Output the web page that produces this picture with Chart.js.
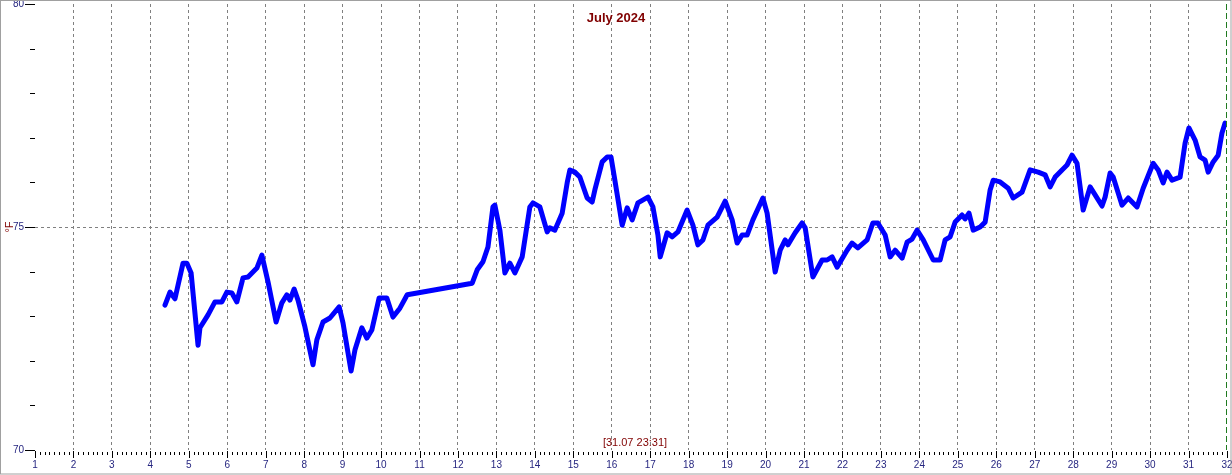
<!DOCTYPE html>
<html>
<head>
<meta charset="utf-8">
<title>July 2024</title>
<script src="https://cdn.jsdelivr.net/npm/chart.js@4.4.1/dist/chart.umd.min.js"></script>
<style>
  body { margin: 0; background: #fff; }
  canvas { display: block; }
</style>
</head>
<body>
<canvas id="tempChart" width="1232" height="475"></canvas>
<script>
const chartTitle = "July 2024";
const lastReading = "[31.07 23:31]";
const unitLabel = "°F";

// day of month (fractional) and temperature readings
const days = [
  4.38, 4.51, 4.64, 4.85, 4.95, 5.06, 5.24, 5.29, 5.50, 5.68, 5.86, 5.99, 6.12, 6.25, 6.41, 6.54,
  6.77, 6.90, 7.06, 7.27, 7.42, 7.55, 7.63, 7.74, 7.84, 8.02, 8.23, 8.33, 8.49, 8.67, 8.91, 9.01,
  9.22, 9.32, 9.50, 9.63, 9.76, 9.95, 10.15, 10.31, 10.49, 10.68, 10.94, 12.37, 12.50, 12.65, 12.78,
  12.91, 12.96, 13.09, 13.22, 13.35, 13.48, 13.67, 13.87, 13.95, 14.13, 14.32, 14.39, 14.52, 14.71,
  14.84, 14.91, 15.04, 15.17, 15.36, 15.49, 15.56, 15.75, 15.88, 15.98, 16.08, 16.27, 16.40, 16.53,
  16.68, 16.94, 17.07, 17.20, 17.26, 17.44, 17.57, 17.72, 17.96, 18.11, 18.24, 18.37, 18.50, 18.74,
  18.95, 19.13, 19.26, 19.39, 19.52, 19.67, 19.93, 20.04, 20.25, 20.38, 20.51, 20.58, 20.77, 20.95,
  21.03, 21.23, 21.47, 21.60, 21.73, 21.86, 22.12, 22.25, 22.40, 22.64, 22.79, 22.92, 23.11, 23.24,
  23.37, 23.55, 23.68, 23.81, 23.94, 24.10, 24.36, 24.54, 24.67, 24.80, 24.93, 25.11, 25.19, 25.29,
  25.40, 25.58, 25.71, 25.84, 25.92, 26.10, 26.31, 26.44, 26.67, 26.88, 27.09, 27.27, 27.40, 27.53,
  27.71, 27.84, 27.97, 28.10, 28.26, 28.44, 28.57, 28.75, 28.83, 28.96, 29.04, 29.27, 29.43, 29.66,
  29.82, 30.08, 30.21, 30.34, 30.44, 30.57, 30.78, 30.91, 31.01, 31.17, 31.30, 31.43, 31.51, 31.64,
  31.77, 31.87, 31.95
];
const tempF = [
  73.25, 73.54, 73.39, 74.19, 74.19, 73.97, 72.35, 72.74, 73.03, 73.32, 73.32, 73.54, 73.52, 73.32, 73.86, 73.88,
  74.08, 74.37, 73.77, 72.87, 73.30, 73.48, 73.36, 73.61, 73.36, 72.76, 71.91, 72.47, 72.87, 72.96, 73.21, 72.85,
  71.77, 72.24, 72.74, 72.51, 72.69, 73.41, 73.41, 72.98, 73.18, 73.48, 73.52, 73.74, 74.04, 74.22, 74.55,
  75.45, 75.49, 74.93, 73.97, 74.19, 73.97, 74.33, 75.45, 75.54, 75.45, 74.89, 74.98, 74.93, 75.31,
  75.99, 76.28, 76.23, 76.12, 75.65, 75.56, 75.83, 76.46, 76.57, 76.57, 76.05, 75.04, 75.43, 75.16,
  75.54, 75.67, 75.45, 74.82, 74.33, 74.87, 74.78, 74.89, 75.38, 75.04, 74.60, 74.71, 75.04, 75.22,
  75.58, 75.16, 74.64, 74.82, 74.82, 75.16, 75.65, 75.31, 73.99, 74.48, 74.71, 74.60, 74.87, 75.09,
  74.98, 73.88, 74.26, 74.26, 74.33, 74.10, 74.48, 74.64, 74.53, 74.71, 75.09, 75.09, 74.82, 74.33,
  74.48, 74.30, 74.66, 74.73, 74.93, 74.71, 74.26, 74.26, 74.71, 74.78, 75.11, 75.27, 75.18, 75.31,
  74.93, 75.00, 75.11, 75.83, 76.05, 76.01, 75.87, 75.65, 75.78, 76.28, 76.23, 76.17, 75.90, 76.12,
  76.28, 76.39, 76.61, 76.43, 75.38, 75.90, 75.72, 75.47, 75.67, 76.21, 76.12, 75.49, 75.65, 75.45,
  75.87, 76.43, 76.28, 75.99, 76.23, 76.05, 76.12, 76.88, 77.22, 76.95, 76.57, 76.50, 76.23, 76.46,
  76.61, 77.11, 77.33
];

const yLabels = [70, 75, 80];
const dayMin = 1, dayMax = 32;
const labelFont = '10px "Liberation Sans", Arial, sans-serif';

// fix axis boxes so the plot area sits where the original one does
function fixBox(s, size) {
  if (s.isHorizontal()) s.height = size; else s.width = size;
  s.paddingLeft = s.paddingRight = s.paddingTop = s.paddingBottom = 0;
}

// tick marks, day labels, titles and frame drawn over the chart
const decor = {
  id: 'decor',
  beforeDraw(chart) {
    const ctx = chart.ctx;
    ctx.save();
    ctx.fillStyle = '#fff';
    ctx.fillRect(0, 0, chart.width, chart.height);
    ctx.restore();
  },
  afterDraw(chart) {
    const { ctx, chartArea: a, scales: { x, y } } = chart;
    ctx.save();

    // end of month marker
    const endX = Math.round(x.getPixelForValue(dayMax)) - 0.5;
    ctx.strokeStyle = '#1f7a1f';
    ctx.setLineDash([6, 3]);
    ctx.beginPath();
    ctx.moveTo(endX, a.top);
    ctx.lineTo(endX, a.bottom);
    ctx.stroke();
    ctx.setLineDash([]);

    ctx.strokeStyle = '#000';
    ctx.lineWidth = 1;
    for (let v = 70; v <= 80; v++) {
      const py = Math.round(y.getPixelForValue(v)) + 0.5;
      ctx.beginPath();
      ctx.moveTo(yLabels.includes(v) ? a.left - 10 : a.left - 5, py);
      ctx.lineTo(a.left, py);
      ctx.stroke();
    }

    // every 3 hours
    for (let i = 0; i <= (dayMax - dayMin) * 8; i++) {
      const px = Math.round(x.getPixelForValue(dayMin + i / 8)) + 0.5;
      const major = i % 8 === 0;
      ctx.beginPath();
      ctx.moveTo(px, a.bottom + (major ? 1 : 2));
      ctx.lineTo(px, a.bottom + (major ? 8 : 5));
      ctx.stroke();
    }

    ctx.textAlign = 'center';
    ctx.textBaseline = 'middle';
    ctx.fillStyle = '#262680';
    ctx.font = labelFont;
    x.ticks.forEach(t => ctx.fillText(String(t.value), x.getPixelForValue(t.value), a.bottom + 15));

    ctx.fillStyle = '#800000';
    ctx.font = 'bold 13px "Liberation Sans", Arial, sans-serif';
    ctx.fillText(chartTitle, chart.width / 2, 18);

    ctx.font = '11px "Liberation Sans", Arial, sans-serif';
    ctx.fillText(lastReading, (a.left + a.right) / 2 + 4, 443);

    ctx.save();
    ctx.translate(10, y.getPixelForValue(75));
    ctx.rotate(-Math.PI / 2);
    ctx.font = '11px "Liberation Sans", Arial, sans-serif';
    ctx.fillText(unitLabel, 0, 0);
    ctx.restore();

    ctx.strokeStyle = '#a0a0a0';
    ctx.strokeRect(0.5, 0.5, chart.width - 1.5, chart.height - 1.5);
    ctx.restore();
  }
};

const ctx = document.getElementById('tempChart').getContext('2d');
new Chart(ctx, {
  type: 'line',
  data: {
    datasets: [{
      data: days.map((d, i) => ({ x: d, y: tempF[i] })),
      borderColor: '#0000ff',
      borderWidth: 5,
      pointRadius: 0,
      tension: 0,
      borderJoinStyle: 'round',
      borderCapStyle: 'round'
    }]
  },
  options: {
    responsive: false,
    animation: false,
    layout: { padding: { top: 4, right: 5, left: 0, bottom: 0 } },
    plugins: {
      legend: { display: false },
      tooltip: { enabled: false },
      title: { display: false }
    },
    scales: {
      x: {
        type: 'linear',
        min: dayMin,
        max: dayMax,
        afterFit: s => fixBox(s, 25),
        border: { display: false, dash: [3, 3] },
        grid: {
          drawTicks: false,
          lineWidth: 1,
          color: c => (c.tick.value === dayMin || c.tick.value === dayMax) ? 'rgba(0,0,0,0)' : '#808080'
        },
        ticks: {
          stepSize: 1,
          autoSkip: false,
          display: false
        }
      },
      y: {
        min: 70,
        max: 80,
        afterFit: s => fixBox(s, 35),
        border: { display: false, dash: [3, 3] },
        grid: {
          drawTicks: false,
          color: c => c.tick.value === 75 ? '#808080' : 'rgba(0,0,0,0)'
        },
        ticks: {
          stepSize: 1,
          padding: 11,
          color: '#262680',
          font: { family: '"Liberation Sans", Arial, sans-serif', size: 10 },
          callback: v => yLabels.includes(v) ? v : ''
        }
      }
    }
  },
  plugins: [decor]
});
</script>
</body>
</html>
